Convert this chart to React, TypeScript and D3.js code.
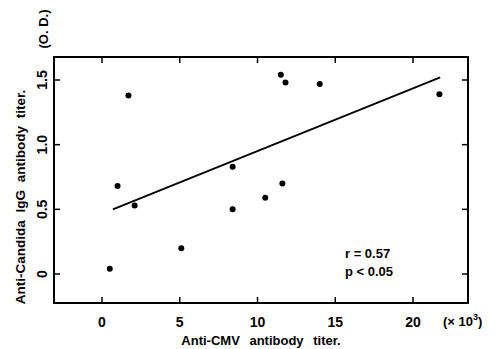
import React, { useEffect, useRef } from 'react';
import * as d3 from 'd3';

// anti-CMV titer (x10^3) vs anti-Candida IgG titer (O.D.)
const cmvTiter = [0.5, 1.0, 2.1, 1.7, 5.1, 8.4, 8.4, 10.5, 11.6, 11.5, 11.8, 14.0, 21.7];
const candidaOD = [0.04, 0.68, 0.53, 1.38, 0.2, 0.83, 0.5, 0.59, 0.7, 1.54, 1.48, 1.47, 1.39];
const fitX = [0.7, 21.75];
const fitY = [0.5, 1.52];
const xTicks = [0, 5, 10, 15, 20];
const yTicks = [0, 0.5, 1.0, 1.5];
const yTickLabels = ['0', '0.5', '1.0', '1.5'];

const App: React.FC = () => {
  const chartRef = useRef<SVGSVGElement>(null);

  useEffect(() => {
    const svg = d3.select(chartRef.current);
    svg.selectAll('*').remove();

    const left = 54, right = 468, top = 57, bottom = 303;
    const x = d3.scaleLinear().domain([0, 20]).range([102, 413]);
    const y = d3.scaleLinear().domain([0, 1.5]).range([274, 80]);

    const font = '"Liberation Sans", Arial, sans-serif';

    svg.append('rect')
      .attr('x', left).attr('y', top)
      .attr('width', right - left).attr('height', bottom - top)
      .attr('fill', 'none').attr('stroke', '#000').attr('stroke-width', 2);

    const g = svg.append('g').attr('stroke', '#000').attr('stroke-width', 1.5);
    // inward ticks on all four sides
    g.selectAll('.tb').data(xTicks).enter().append('line')
      .attr('x1', d => x(d)).attr('x2', d => x(d))
      .attr('y1', top).attr('y2', top + 6);
    g.selectAll('.bt').data(xTicks).enter().append('line')
      .attr('x1', d => x(d)).attr('x2', d => x(d))
      .attr('y1', bottom).attr('y2', bottom - 6);
    g.selectAll('.lt').data(yTicks).enter().append('line')
      .attr('x1', left).attr('x2', left + 6)
      .attr('y1', d => y(d)).attr('y2', d => y(d));
    g.selectAll('.rt').data(yTicks).enter().append('line')
      .attr('x1', right).attr('x2', right - 6)
      .attr('y1', d => y(d)).attr('y2', d => y(d));

    svg.selectAll('.xl').data(xTicks).enter().append('text')
      .attr('x', d => x(d)).attr('y', 327)
      .attr('text-anchor', 'middle')
      .attr('font-family', font).attr('font-size', 14).attr('font-weight', 'bold')
      .text(d => String(d));

    svg.selectAll('.yl').data(yTicks).enter().append('text')
      .attr('transform', d => `translate(47,${y(d)}) rotate(-90)`)
      .attr('text-anchor', 'middle')
      .attr('font-family', font).attr('font-size', 14).attr('font-weight', 'bold')
      .text((d, i) => yTickLabels[i]);

    const unit = svg.append('text')
      .attr('x', 443).attr('y', 326)
      .attr('font-family', font).attr('font-size', 13).attr('font-weight', 'bold');
    unit.append('tspan').text('(\u00d7 10');
    unit.append('tspan').attr('dy', -6).attr('font-size', 9).text('3');
    unit.append('tspan').attr('dy', 6).text(')');

    svg.append('text')
      .attr('x', 261).attr('y', 345)
      .attr('text-anchor', 'middle')
      .attr('font-family', font).attr('font-size', 13).attr('font-weight', 'bold')
      .attr('word-spacing', 6)
      .text('Anti-CMV antibody titer.');

    svg.append('text')
      .attr('transform', 'translate(25,197) rotate(-90)')
      .attr('text-anchor', 'middle')
      .attr('font-family', font).attr('font-size', 13.5).attr('font-weight', 'bold')
      .attr('word-spacing', 4)
      .text('Anti-Candida IgG antibody titer.');

    svg.append('text')
      .attr('transform', 'translate(48,29) rotate(-90)')
      .attr('text-anchor', 'middle')
      .attr('font-family', font).attr('font-size', 13).attr('font-weight', 'bold')
      .text('(O. D.)');

    svg.append('text')
      .attr('x', 345).attr('y', 258)
      .attr('font-family', font).attr('font-size', 13).attr('font-weight', 'bold')
      .text('r = 0.57');
    svg.append('text')
      .attr('x', 345).attr('y', 276)
      .attr('font-family', font).attr('font-size', 13).attr('font-weight', 'bold')
      .text('p < 0.05');

    const line = d3.line<number>().x(d => x(d)).y((d, i) => y(fitY[i]));
    svg.append('path')
      .attr('d', line(fitX) as string)
      .attr('fill', 'none').attr('stroke', '#000').attr('stroke-width', 1.8);

    svg.selectAll('.pt').data(cmvTiter).enter().append('circle')
      .attr('cx', d => x(d)).attr('cy', (d, i) => y(candidaOD[i]))
      .attr('r', 3).attr('fill', '#000');
  }, []);

  return <svg ref={chartRef} width="495" height="349" style={{ position: 'absolute', left: 0, top: 0 }}></svg>;
};

export default App;
